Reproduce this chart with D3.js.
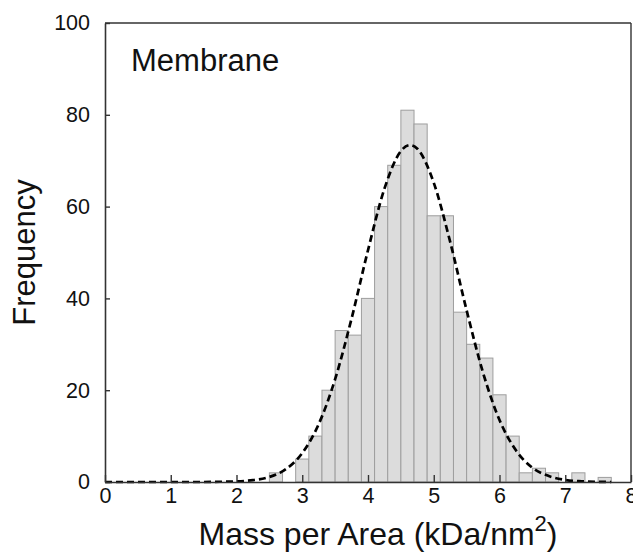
<!DOCTYPE html>
<html>
<head>
<meta charset="utf-8">
<script src="https://cdn.jsdelivr.net/npm/d3@7"></script>
<style>
  body { margin: 0; background: #fff; }
  text { font-family: "Liberation Sans", Arial, sans-serif; fill: #111; }
</style>
</head>
<body>
<svg id="chart"></svg>
<script>
// histogram bins (centre of each 0.2 wide bin) and their counts
const BIN_CENTERS = [2.6, 2.8, 3.0, 3.2, 3.4, 3.6, 3.8, 4.0, 4.2, 4.4, 4.6, 4.8, 5.0,
                     5.2, 5.4, 5.6, 5.8, 6.0, 6.2, 6.4, 6.6, 6.8, 7.0, 7.2, 7.4, 7.6];
const COUNTS      = [2, 0, 5, 10, 20, 33, 32, 40, 60, 69, 81, 78, 58,
                     58, 37, 30, 27, 19, 10, 2, 3, 2, 0, 2, 0, 1];
const BIN_WIDTH = 0.2;

// gaussian fit curve
const FIT_X = [0, 0.5, 1, 1.5, 1.75, 2.0, 2.25, 2.5, 2.75, 3.0, 3.25, 3.5, 3.75, 4.0, 4.25,
               4.5, 4.64, 4.75, 5.0, 5.25, 5.5, 5.75, 6.0, 6.25, 6.5, 6.75, 7.0, 7.25, 7.5, 7.7];
const FIT_Y = [0, 0, 0, 0, 0.05, 0.13, 0.4, 1.1, 2.8, 6.3, 12.6, 22.4, 35.6, 50.5, 63.9,
               72.1, 73.4, 72.6, 65.2, 52.3, 37.4, 23.8, 13.5, 6.9, 3.1, 1.3, 0.45, 0.15, 0.04, 0];

const X_TICKS = [0, 1, 2, 3, 4, 5, 6, 7, 8];
const Y_TICKS = [0, 20, 40, 60, 80, 100];
const PANEL_LABEL = "Membrane";

const W = 633, H = 554;
const margin = { top: 23, right: 2, bottom: 72, left: 105 };
const innerW = W - margin.left - margin.right;
const innerH = H - margin.top - margin.bottom;
const AXIS_COLOR = "#333";

const svg = d3.select("#chart").attr("width", W).attr("height", H);
const g = svg.append("g").attr("transform", `translate(${margin.left},${margin.top})`);

const x = d3.scaleLinear().domain([0, 8]).range([0, innerW]);
const y = d3.scaleLinear().domain([0, 100]).range([innerH, 0]);

// ── Bars ──────────────────────────────────────────────────────────────────
const bins = BIN_CENTERS.map((c, i) => ({ c, n: COUNTS[i] })).filter(d => d.n > 0);
g.append("g").selectAll("rect")
    .data(bins).join("rect")
    .attr("x", d => x(d.c - BIN_WIDTH / 2))
    .attr("width", d => x(d.c + BIN_WIDTH / 2) - x(d.c - BIN_WIDTH / 2))
    .attr("y", d => y(d.n))
    .attr("height", d => y(0) - y(d.n))
    .attr("fill", "#dcdcdc")
    .attr("stroke", "#9e9e9e")
    .attr("stroke-width", 1);

// ── Fit ───────────────────────────────────────────────────────────────────
const fit = FIT_X.map((v, i) => [v, FIT_Y[i]]);
g.append("path")
    .datum(fit)
    .attr("fill", "none")
    .attr("stroke", "#000")
    .attr("stroke-width", 2.7)
    .attr("stroke-dasharray", "7,4")
    .attr("d", d3.line().x(d => x(d[0])).y(d => y(d[1])).curve(d3.curveMonotoneX));

// ── Axes ──────────────────────────────────────────────────────────────────
const xAxis = g.append("g").attr("transform", `translate(0,${innerH})`)
    .call(d3.axisBottom(x).tickValues(X_TICKS).tickFormat(d3.format("d"))
        .tickSizeInner(-7).tickSizeOuter(0).tickPadding(6));
const yAxis = g.append("g")
    .call(d3.axisLeft(y).tickValues(Y_TICKS).tickSizeInner(-5).tickSizeOuter(0).tickPadding(15));

[xAxis, yAxis].forEach(a => {
    a.select(".domain").attr("stroke", AXIS_COLOR).attr("stroke-width", 1.6);
    a.selectAll(".tick line").attr("stroke", AXIS_COLOR).attr("stroke-width", 1.4);
    a.selectAll(".tick text").attr("font-size", 21.5).attr("fill", "#111")
        .attr("font-family", '"Liberation Sans", Arial, sans-serif');
});

// frame top / right
g.append("line").attr("x1", 0).attr("x2", innerW).attr("y1", 0).attr("y2", 0)
    .attr("stroke", AXIS_COLOR).attr("stroke-width", 1.4);
g.append("line").attr("x1", innerW).attr("x2", innerW).attr("y1", 0).attr("y2", innerH)
    .attr("stroke", AXIS_COLOR).attr("stroke-width", 1.4);

// ── Labels ────────────────────────────────────────────────────────────────
g.append("text")
    .attr("x", 26).attr("y", 48)
    .attr("font-size", 31)
    .text(PANEL_LABEL);

const xt = svg.append("text")
    .attr("x", margin.left + innerW / 2 + 10).attr("y", 545)
    .attr("text-anchor", "middle")
    .attr("font-size", 32);
xt.append("tspan").text("Mass per Area (kDa/nm");
xt.append("tspan").attr("font-size", 22).attr("dy", -14).text("2");
xt.append("tspan").attr("dy", 14).text(")");

svg.append("text")
    .attr("transform", `translate(35,${margin.top + innerH / 2}) rotate(-90)`)
    .attr("text-anchor", "middle")
    .attr("font-size", 31)
    .text("Frequency");
</script>
</body>
</html>
